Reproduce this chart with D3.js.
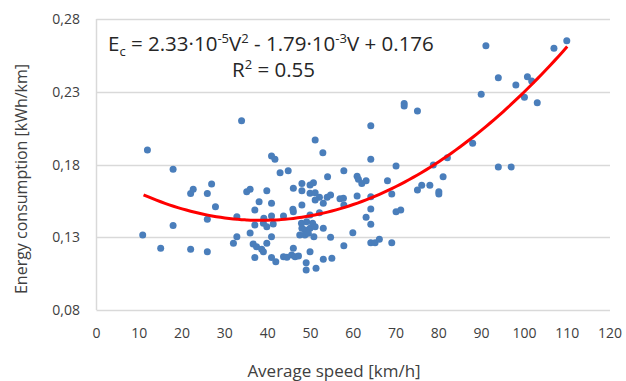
<!DOCTYPE html>
<html>
<head>
<meta charset="utf-8">
<script src="https://cdn.jsdelivr.net/npm/d3@7"></script>
<style>
  body { margin: 0; background: #fff; }
  text { font-family: "Open Sans", "Liberation Sans", sans-serif; fill: #404040; }
</style>
</head>
<body>
<svg id="chart" width="626" height="381"></svg>
<script>
// measured points: average speed [km/h], energy consumption [kWh/km]
const speed = [
  10.8, 11.9, 15.0, 17.9, 17.9, 22.0, 22.0, 22.6, 25.9, 26.9, 25.9, 25.9, 27.8, 32.0, 32.8, 32.8, 33.9,
  35.1, 35.9, 35.9, 36.6, 37.0, 37.0, 37.0, 37.4, 38.0, 38.6, 39.0, 39.0, 39.8, 39.8, 39.8,
  40.9, 41.7, 40.9, 40.9, 41.3, 40.9, 40.9, 41.9, 39.1, 42.9, 44.8, 43.7, 43.7, 44.5, 45.6, 46.4,
  47.2, 46.0, 46.0, 45.9, 46.0, 48.0, 48.0, 48.0, 48.0, 48.7, 49.9, 49.1, 50.5, 51.1, 48.7, 49.5,
  50.8, 49.9, 50.7, 49.9, 51.1, 51.1, 52.9, 54.0, 52.1, 53.9, 54.7, 51.1, 53.0, 49.9, 52.1, 53.0,
  54.7, 49.9, 49.0, 49.0, 51.3, 53.0, 55.0, 56.9, 47.5, 47.9,
  57.8, 60.9, 61.2, 62.0, 63.0, 57.7, 60.9, 57.8, 64.1, 64.1, 64.1, 64.1, 63.0, 64.1, 59.9, 57.8,
  64.1, 65.1, 66.1, 69.0, 68.0, 69.0, 70.0, 70.0, 71.1, 71.9, 71.9, 75.0, 75.0, 76.0, 77.9, 80.0,
  80.0, 78.7, 81.0, 82.0, 87.9, 89.9, 91.0, 93.9, 93.9, 96.9, 98.0, 100.0, 100.7, 101.7, 103.0,
  106.9, 109.9
];
const consumption = [
  0.1315, 0.190, 0.1224, 0.1767, 0.138, 0.1217, 0.160, 0.163, 0.160, 0.1666, 0.1423, 0.120, 0.151, 0.1258, 0.1304, 0.1441, 0.210,
  0.1613, 0.163, 0.133, 0.1254, 0.1487, 0.1384, 0.116, 0.1235, 0.1544, 0.1217, 0.120, 0.1396, 0.162, 0.1373, 0.1258,
  0.1858, 0.1836, 0.1533, 0.1446, 0.1391, 0.1304, 0.116, 0.1132, 0.143, 0.1744, 0.1757, 0.1446, 0.1166, 0.1162, 0.1178, 0.1166,
  0.1171, 0.1224, 0.1636, 0.1492, 0.1476, 0.167, 0.162, 0.1522, 0.1361, 0.135, 0.1361, 0.1407, 0.1396, 0.1373, 0.1316, 0.1327,
  0.1304, 0.1659, 0.1675, 0.1602, 0.1606, 0.1968, 0.1881, 0.1716, 0.1575, 0.1575, 0.159, 0.1556, 0.1533, 0.1453, 0.1469, 0.1361,
  0.130, 0.120, 0.1125, 0.1075, 0.1087, 0.1148, 0.1155, 0.1565, 0.1316, 0.1396,
  0.1757, 0.172, 0.1698, 0.167, 0.1689, 0.1568, 0.1584, 0.1522, 0.1579, 0.2067, 0.1836, 0.1494, 0.1437, 0.1389, 0.1331, 0.1242,
  0.1263, 0.1263, 0.1286, 0.1263, 0.1689, 0.1597, 0.179, 0.1476, 0.1487, 0.222, 0.2202, 0.2168, 0.1625, 0.1657, 0.1657, 0.1613,
  0.1597, 0.1797, 0.1716, 0.1847, 0.1946, 0.2282, 0.2617, 0.2397, 0.1783, 0.1783, 0.2347, 0.2262, 0.2403, 0.2374, 0.2225,
  0.2599, 0.2651
];

// trendline coefficients as printed on the chart: a*V^2 + b*V + c
const trendCoef = [2.33e-5, -1.79e-3, 0.176];
const trendRange = [11, 110];

const xTicks = [0, 10, 20, 30, 40, 50, 60, 70, 80, 90, 100, 110, 120];
const yTicks = [0.08, 0.13, 0.18, 0.23, 0.28];

const svg = d3.select('#chart');

const x = d3.scaleLinear().domain([0, 120]).range([96.5, 610]);
const y = d3.scaleLinear().domain([0.08, 0.28]).range([310, 19]);

// grid lines
svg.append('g')
  .selectAll('line')
  .data(yTicks)
  .join('line')
    .attr('x1', x(0))
    .attr('x2', x(120))
    .attr('y1', d => Math.round(y(d)) + 0.5)
    .attr('y2', d => Math.round(y(d)) + 0.5)
    .attr('stroke', '#d9d9d9')
    .attr('stroke-width', 1.5);

svg.append('line')
  .attr('x1', x(0)).attr('x2', x(0))
  .attr('y1', y(0.28)).attr('y2', y(0.08))
  .attr('stroke', '#d9d9d9')
  .attr('stroke-width', 1.5);

// tick labels
svg.append('g')
  .selectAll('text')
  .data(yTicks)
  .join('text')
    .attr('x', 80)
    .attr('y', d => y(d) + 5)
    .attr('text-anchor', 'end')
    .attr('font-size', 14)
    .text(d => d3.format('.2f')(d).replace('.', ','));

svg.append('g')
  .selectAll('text')
  .data(xTicks)
  .join('text')
    .attr('x', d => x(d))
    .attr('y', 338)
    .attr('text-anchor', 'middle')
    .attr('font-size', 14)
    .text(d => d);

// axis titles
svg.append('text')
  .attr('transform', 'translate(27,179) rotate(-90)')
  .attr('text-anchor', 'middle')
  .attr('font-size', 16)
  .text('Energy consumption [kWh/km]');

svg.append('text')
  .attr('x', 334)
  .attr('y', 377)
  .attr('text-anchor', 'middle')
  .attr('font-size', 17)
  .text('Average speed [km/h]');

// points
const points = speed.map((s, i) => ({ s: s, e: consumption[i] }));
svg.append('g')
  .selectAll('circle')
  .data(points)
  .join('circle')
    .attr('cx', d => x(d.s))
    .attr('cy', d => y(d.e))
    .attr('r', 3.5)
    .attr('fill', '#4a7ebb');

// trendline
const trend = d3.range(trendRange[0], trendRange[1] + 0.5, 1)
  .map(v => [v, trendCoef[0] * v * v + trendCoef[1] * v + trendCoef[2]]);
svg.append('path')
  .datum(trend)
  .attr('fill', 'none')
  .attr('stroke', '#ff0000')
  .attr('stroke-width', 3)
  .attr('d', d3.line().x(d => x(d[0])).y(d => y(d[1])).curve(d3.curveMonotoneX));

// equation
const eq = svg.append('text')
  .attr('x', 108)
  .attr('y', 51)
  .attr('font-size', 20.5)
  .style('fill', '#262626');
eq.append('tspan').text('E');
eq.append('tspan').attr('font-size', 13).attr('dy', 5).text('c');
eq.append('tspan').attr('dy', -5).text(' = 2.33·10');
eq.append('tspan').attr('font-size', 13).attr('dy', -8).text('-5');
eq.append('tspan').attr('dy', 8).text('V');
eq.append('tspan').attr('font-size', 13).attr('dy', -8).text('2');
eq.append('tspan').attr('dy', 8).text(' - 1.79·10');
eq.append('tspan').attr('font-size', 13).attr('dy', -8).text('-3');
eq.append('tspan').attr('dy', 8).text('V + 0.176');

const r2 = svg.append('text')
  .attr('x', 232)
  .attr('y', 77)
  .attr('font-size', 20.5)
  .style('fill', '#262626');
r2.append('tspan').text('R');
r2.append('tspan').attr('font-size', 13).attr('dy', -8).text('2');
r2.append('tspan').attr('dy', 8).text(' = 0.55');
</script>
</body>
</html>
